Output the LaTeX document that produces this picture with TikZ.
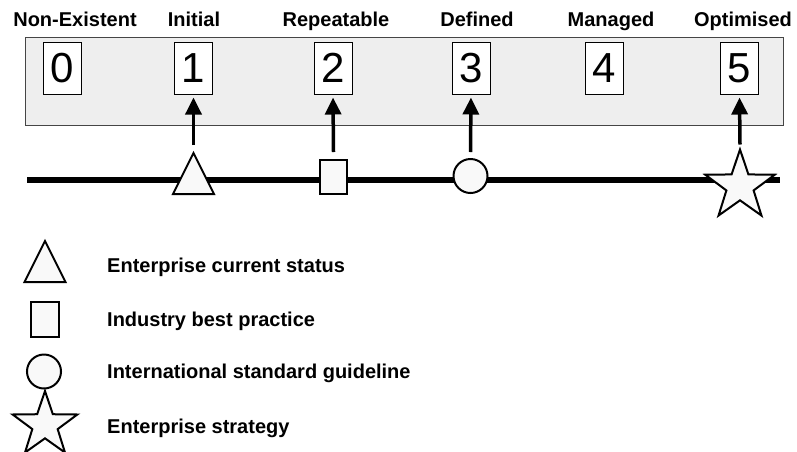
\documentclass[tikz,border=0pt]{standalone}
\usepackage{fontspec}
\setmainfont{Liberation Sans}
\usetikzlibrary{shapes.geometric,arrows.meta}
\definecolor{panel}{HTML}{EEEEEE}
\definecolor{panelline}{HTML}{454545}
\definecolor{markfill}{HTML}{F9F9F9}
\tikzset{
  level/.style={font=\fontsize{20}{24}\selectfont\bfseries, anchor=base, inner sep=0pt},
  legendtext/.style={font=\fontsize{20}{24}\selectfont\bfseries, anchor=base west, inner sep=0pt},
  numbox/.style={draw, line width=1pt, fill=white, minimum width=38pt, minimum height=52pt,
    inner sep=0pt, font=\fontsize{42}{48}\selectfont},
  marker/.style={draw, line width=2pt, fill=markfill, inner sep=0pt, outer sep=0pt},
  trimark/.style={marker, isosceles triangle, isosceles triangle stretches,
    shape border rotate=90, minimum width=41pt, minimum height=41pt, anchor=apex},
  sqmark/.style={marker, rectangle, minimum width=27pt, minimum height=34pt},
  circmark/.style={marker, circle, minimum size=34pt},
  starmark/.style={marker, star, star points=5, star point ratio=2.55, minimum size=#1},
  timeline/.style={line width=6pt},
  pointer/.style={line width=3.5pt, -{Triangle[width=16pt,length=17pt]}},
}
\begin{document}
\begin{tikzpicture}[x=1pt, y=-1pt]
  \useasboundingbox (0,0) rectangle (797,451);

  % maturity scale panel
  \node[draw=panelline, line width=1.2pt, fill=panel, minimum width=758pt, minimum height=88pt,
        inner sep=0pt, anchor=north west] (panel) at (25,37) {};

  % level names
  \node[level] (n0) at (75,26) {Non-Existent};
  \node[level] (n1) at (194,26) {Initial};
  \node[level] (n2) at (336,26) {Repeatable};
  \node[level] (n3) at (477,26) {Defined};
  \node[level] (n4) at (611,26) {Managed};
  \node[level] (n5) at (743,26) {Optimised};

  % level numbers
  \node[numbox] (b0) at (62,68) {0};
  \node[numbox] (b1) at (193.5,68) {1};
  \node[numbox] (b2) at (333,68) {2};
  \node[numbox] (b3) at (471,68) {3};
  \node[numbox] (b4) at (604,68) {4};
  \node[numbox] (b5) at (739.5,68) {5};

  % time line
  \coordinate (tlA) at (27,180);
  \coordinate (tlB) at (780,180);
  \draw[timeline] (tlA) -- (tlB);

  % markers on the line
  \node[trimark] (mtri) at (193.5,153) {};
  \node[sqmark] (msq) at (333.5,177) {};
  \node[circmark] (mcirc) at (470.5,176) {};
  \node[starmark=73pt] (mstar) at (740,186) {};

  % pointers up to the levels
  \draw[pointer] ([yshift=8pt]mtri.apex) -- ([yshift=-3pt]b1.south);
  \draw[pointer] ([yshift=8pt]msq.north) -- ([yshift=-3pt]b2.south);
  \draw[pointer] ([yshift=7pt]mcirc.north) -- ([yshift=-3pt]b3.south);
  \draw[pointer] ([yshift=5pt]mstar.outer point 1) -- ([yshift=-3pt]b5.south);

  % legend
  \node[trimark] (ltri) at (45,241) {};
  \node[sqmark, minimum width=28pt, minimum height=35pt] (lsq) at (45,319.5) {};
  \node[circmark] (lcirc) at (44,371.5) {};
  \node[starmark=68pt] (lstar) at (45,425) {};

  \node[legendtext] (t1) at (107,272) {Enterprise current status};
  \node[legendtext] (t2) at (107,326) {Industry best practice};
  \node[legendtext] (t3) at (107,378) {International standard guideline};
  \node[legendtext] (t4) at (107,433) {Enterprise strategy};
\end{tikzpicture}
\end{document}
